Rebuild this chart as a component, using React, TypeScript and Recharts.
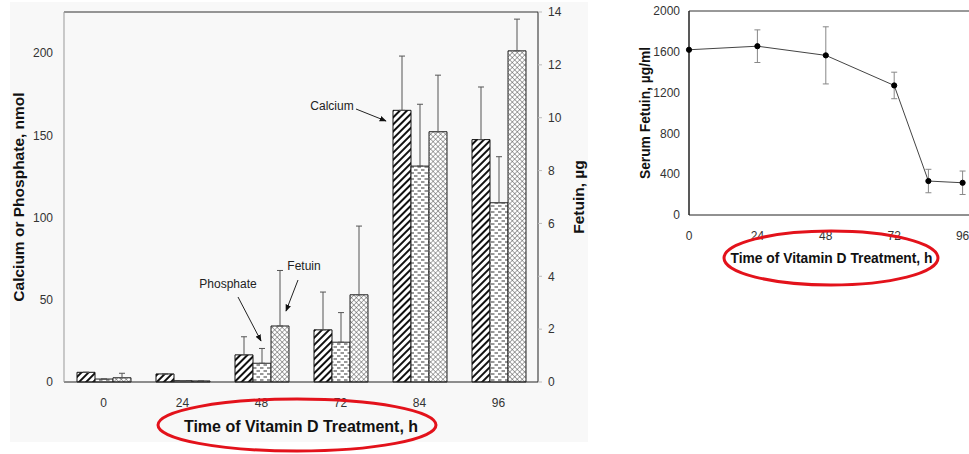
import { BarChart, Bar, XAxis, YAxis, ErrorBar, ReferenceLine, LineChart, Line } from 'recharts';

// ── Data ──────────────────────────────────────────────────────────────────────

// bar panel: calcium / phosphate in nmol, fetuin in µg
const times = ['0', '24', '48', '72', '84', '96'];
const calcium = [5.9, 4.9, 16.5, 31.7, 165.2, 147.4];
const calciumErr = [0, 0, 11, 23, 33, 32];
const phosphate = [1.8, 0.8, 11.4, 24.2, 131.3, 109];
const phosphateErr = [0, 0, 9, 18, 37.6, 28];
const fetuin = [0.16, 0.04, 2.12, 3.3, 9.47, 12.53];
const fetuinErr = [0.17, 0, 2.1, 2.6, 2.14, 1.2];

const leftTicks = [0, 50, 100, 150, 200];
const rightTicks = [0, 2, 4, 6, 8, 10, 12, 14];

// line panel: serum fetuin, µg/ml
const serumTimes = [0, 24, 48, 72, 84, 96];
const serumFetuin = [1620, 1655, 1565, 1270, 333, 316];
const serumErr = [0, 160, 280, 130, 115, 115];

const serumXTicks = [0, 24, 48, 72, 96];
const serumYTicks = [0, 400, 800, 1200, 1600, 2000];

const barRows = times.map((t, i) => ({
  time: t,
  calcium: calcium[i],
  caErr: [0, calciumErr[i]],
  phosphate: phosphate[i],
  phErr: [0, phosphateErr[i]],
  fetuin: fetuin[i],
  feErr: [0, fetuinErr[i]],
}));

const serumRows = serumTimes.map((t, i) => ({
  time: t,
  value: serumFetuin[i],
  err: serumErr[i],
}));

// ── Styling ───────────────────────────────────────────────────────────────────

const FONT = '"Liberation Sans", Arial, sans-serif';
const tickStyle = { fill: '#333', fontSize: 12, fontFamily: FONT };
const titleStyle = (size: number) => ({
  fill: '#111',
  fontSize: size,
  fontWeight: 700,
  fontFamily: FONT,
  textAnchor: 'middle' as const,
});

function Patterns() {
  return (
    <defs>
      <pattern id="hatchCa" width="5" height="5" patternUnits="userSpaceOnUse" patternTransform="rotate(45)">
        <rect width="5" height="5" fill="#fff" />
        <line x1="1" y1="0" x2="1" y2="5" stroke="#111" strokeWidth="2" />
      </pattern>
      <pattern id="dashPh" width="7" height="6" patternUnits="userSpaceOnUse">
        <rect width="7" height="6" fill="#fff" />
        <line x1="1" y1="2" x2="4.5" y2="2" stroke="#333" strokeWidth="1" />
        <line x1="4.5" y1="5" x2="7" y2="5" stroke="#333" strokeWidth="1" />
        <line x1="0" y1="5" x2="1" y2="5" stroke="#333" strokeWidth="1" />
      </pattern>
      <pattern id="crossFe" width="3.5" height="3.5" patternUnits="userSpaceOnUse" patternTransform="rotate(45)">
        <rect width="3.5" height="3.5" fill="#fff" />
        <line x1="0" y1="0" x2="0" y2="3.5" stroke="#444" strokeWidth="0.9" />
        <line x1="0" y1="0" x2="3.5" y2="0" stroke="#444" strokeWidth="0.9" />
      </pattern>
      <marker id="arrowHead" viewBox="0 0 10 10" refX="9" refY="5" markerWidth="7" markerHeight="7" orient="auto">
        <path d="M0,1 L10,5 L0,9 z" fill="#111" />
      </marker>
    </defs>
  );
}

// ── Bar panel ─────────────────────────────────────────────────────────────────

function MineralPanel() {
  return (
    <BarChart
      width={600}
      height={454}
      data={barRows}
      margin={{ top: 12, right: 0, left: 0, bottom: 42 }}
      barGap={0}
      barSize={18}
    >
      <Patterns />
      <XAxis
        dataKey="time"
        height={30}
        tick={tickStyle}
        tickLine={false}
        tickSize={0}
        tickMargin={16}
        axisLine={{ stroke: '#222' }}
        label={{ value: 'Time of Vitamin D Treatment, h', position: 'bottom', offset: 9, style: titleStyle(16) }}
      />
      <YAxis
        yAxisId="left"
        orientation="left"
        width={64}
        domain={[0, 225]}
        ticks={leftTicks}
        tick={tickStyle}
        tickLine={false}
        tickSize={4}
        tickMargin={7}
        axisLine={{ stroke: '#999' }}
        label={{ value: 'Calcium or Phosphate, nmol', angle: -90, position: 'insideLeft', offset: 18, style: titleStyle(15.5) }}
      />
      <YAxis
        yAxisId="right"
        orientation="right"
        width={62}
        domain={[0, 14]}
        ticks={rightTicks}
        tick={tickStyle}
        tickLine={{ stroke: '#bbb' }}
        tickSize={4}
        tickMargin={6}
        axisLine={{ stroke: '#222' }}
        label={{ value: 'Fetuin, µg', angle: -90, position: 'insideRight', offset: 22, style: titleStyle(15.5) }}
      />
      <ReferenceLine yAxisId="left" y={225} stroke="#333" strokeWidth={1} />
      <Bar yAxisId="left" dataKey="calcium" fill="url(#hatchCa)" stroke="#111" strokeWidth={1} isAnimationActive={false}>
        <ErrorBar dataKey="caErr" width={3} stroke="#555" strokeWidth={1} isAnimationActive={false} />
      </Bar>
      <Bar yAxisId="left" dataKey="phosphate" fill="url(#dashPh)" stroke="#222" strokeWidth={1} isAnimationActive={false}>
        <ErrorBar dataKey="phErr" width={3} stroke="#555" strokeWidth={1} isAnimationActive={false} />
      </Bar>
      <Bar yAxisId="right" dataKey="fetuin" fill="url(#crossFe)" stroke="#222" strokeWidth={1} isAnimationActive={false}>
        <ErrorBar dataKey="feErr" width={3} stroke="#555" strokeWidth={1} isAnimationActive={false} />
      </Bar>
    </BarChart>
  );
}

// ── Serum line panel ──────────────────────────────────────────────────────────

function SerumPanel() {
  return (
    <LineChart
      width={380}
      height={300}
      data={serumRows}
      margin={{ top: 11, right: 26, left: 0, bottom: 55 }}
    >
      <XAxis
        dataKey="time"
        type="number"
        domain={[0, 100]}
        ticks={serumXTicks}
        height={30}
        tick={tickStyle}
        tickLine={false}
        tickSize={0}
        tickMargin={16}
        axisLine={{ stroke: '#222' }}
        label={{ value: 'Time of Vitamin D Treatment, h', position: 'bottom', offset: 8, style: titleStyle(13.8) }}
      />
      <YAxis
        width={69}
        domain={[0, 2000]}
        ticks={serumYTicks}
        tick={tickStyle}
        tickLine={false}
        tickSize={0}
        tickMargin={9}
        axisLine={{ stroke: '#222', strokeWidth: 1.5 }}
        label={{ value: 'Serum Fetuin, µg/ml', angle: -90, position: 'insideLeft', offset: 25, style: titleStyle(13.8) }}
      />
      <ReferenceLine y={2000} stroke="#333" strokeWidth={1} />
      <Line
        dataKey="value"
        stroke="#444"
        strokeWidth={1}
        dot={{ r: 2.6, fill: '#000', stroke: '#000', strokeWidth: 1 }}
        isAnimationActive={false}
      >
        <ErrorBar dataKey="err" width={3} stroke="#888" strokeWidth={1} isAnimationActive={false} />
      </Line>
    </LineChart>
  );
}

// ── Callouts and highlight rings ──────────────────────────────────────────────

function Overlay() {
  const txt = { fontSize: 12, fontFamily: FONT, fill: '#222', textAnchor: 'middle' as const };
  return (
    <svg width={969} height={454} style={{ position: 'absolute', left: 0, top: 0, pointerEvents: 'none' }}>
      <Patterns />
      <text x={332} y={110} style={txt}>Calcium</text>
      <line x1={356} y1={109} x2={386} y2={121} stroke="#222" strokeWidth={1} markerEnd="url(#arrowHead)" />
      <text x={228} y={288} style={txt}>Phosphate</text>
      <line x1={238} y1={297} x2={261} y2={341} stroke="#222" strokeWidth={1} markerEnd="url(#arrowHead)" />
      <text x={304} y={270} style={txt}>Fetuin</text>
      <line x1={298} y1={280} x2={286} y2={311} stroke="#222" strokeWidth={1} markerEnd="url(#arrowHead)" />
      <ellipse cx={297} cy={425} rx={139} ry={26} fill="none" stroke="#e3121b" strokeWidth={3} />
      <ellipse cx={831} cy={258} rx={107} ry={27} fill="none" stroke="#e3121b" strokeWidth={3} />
    </svg>
  );
}

export default function App() {
  return (
    <div
      style={{
        position: 'fixed',
        left: 0,
        top: 0,
        width: 969,
        height: 454,
        overflow: 'hidden',
        background: '#fff',
        fontFamily: FONT,
      }}
    >
      <div style={{ position: 'absolute', left: 10, top: 2, width: 578, height: 440, background: '#f8f8f8' }} />
      <div style={{ position: 'absolute', left: 0, top: 0 }}>
        <MineralPanel />
      </div>
      <div style={{ position: 'absolute', left: 620, top: 0 }}>
        <SerumPanel />
      </div>
      <Overlay />
    </div>
  );
}
